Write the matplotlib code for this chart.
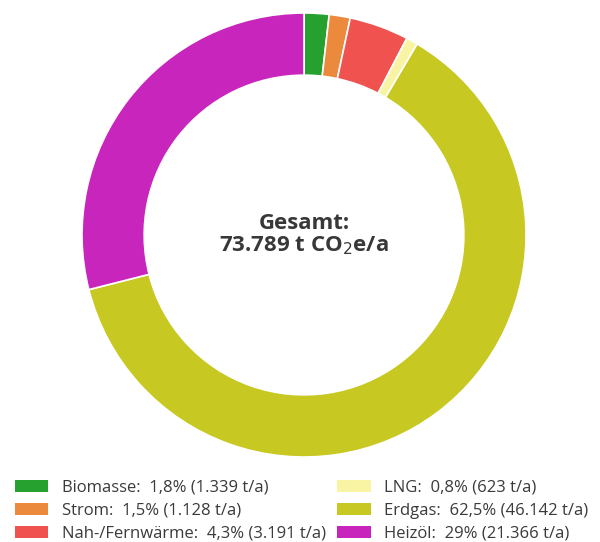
import matplotlib
matplotlib.use("Agg")
from matplotlib import pyplot as plt
from matplotlib.patches import Patch

plt.rcParams['font.family'] = ['Open Sans', 'DejaVu Sans']

names = ["Biomasse", "Strom", "Nah-/Fernwärme", "LNG", "Erdgas", "Heizöl"]
shares = ["1,8%", "1,5%", "4,3%", "0,8%", "62,5%", "29%"]
tonnes = [1339, 1128, 3191, 623, 46142, 21366]
colors = ["#26a02e", "#eb8a3c", "#f0524f", "#f8f4a4", "#c8c822", "#c825bd"]
total = 73789


def fmt(n):
    return "{:,}".format(n).replace(",", ".")


fig = plt.figure(figsize=(6, 5.42), dpi=100)
ax = fig.add_axes([0.1367, 0.1568, 0.74, 0.8192])
ax.pie(tonnes, colors=colors, startangle=90, counterclock=False, radius=1,
       wedgeprops=dict(width=0.28, edgecolor='white', linewidth=1.2))
ax.set_xlim(-1, 1)
ax.set_ylim(-1, 1)
ax.set_aspect('equal')
ax.text(0, 0.0, "Gesamt:\n" + fmt(total) + " t CO$_2$e/a", ha='center', va='center',
        fontsize=16, fontweight='bold', color='#383838', linespacing=1.05)

labels = ["{}:  {} ({} t/a)".format(n, s, fmt(t)) for n, s, t in zip(names, shares, tonnes)]
handles = [Patch(facecolor=c, edgecolor='none') for c in colors]
fig.legend(handles, labels, ncol=2, loc='lower left', bbox_to_anchor=(0.0, -0.027),
           frameon=False, fontsize=12, handlelength=2.0, handleheight=0.7,
           handletextpad=0.8, labelspacing=0.42, columnspacing=0.7,
           labelcolor='#3a3a3a')

fig.savefig("out.png", dpi=100)
